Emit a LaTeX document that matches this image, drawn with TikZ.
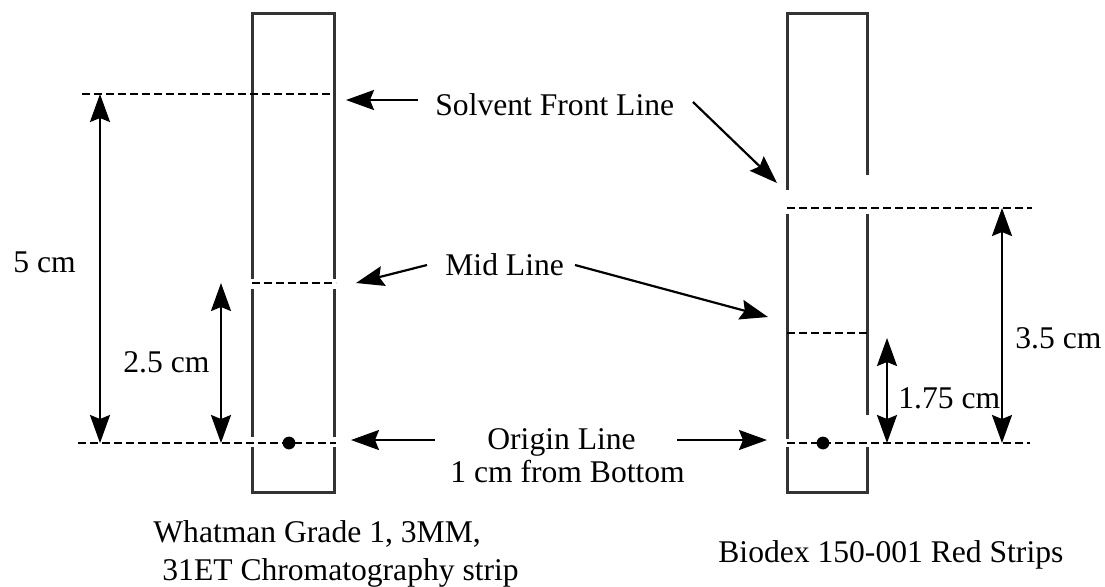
\documentclass[tikz,border=0pt]{standalone}
\usepackage{fontspec}
\setmainfont{Liberation Serif}
\usetikzlibrary{arrows.meta}
\begin{document}
\begin{tikzpicture}[x=0.5pt,y=-0.5pt,
  strip/.style={line width=1.5pt,line cap=rect,draw=black!80},
  dline/.style={line width=1.4pt,dash pattern=on 4pt off 2pt},
  ptr/.style={line width=1.1pt,-{Stealth[length=14pt,width=10pt,inset=2pt]}},
  dim/.style={line width=1.1pt,{Stealth[length=14pt,width=10pt,inset=2pt]}-{Stealth[length=14pt,width=10pt,inset=2pt]}},
  lbl/.style={inner sep=0pt,anchor=base west,font=\fontsize{15.8}{19}\selectfont}]
\useasboundingbox (0,0) rectangle (1105,586);
% left strip
\draw[strip] (252,277) -- (252,13) -- (334,13) -- (334,277);
\draw[strip] (252,290) -- (252,435);
\draw[strip] (334,290) -- (334,435);
\draw[strip] (252,448) -- (252,492) -- (334,492) -- (334,448);
% right strip
\draw[strip] (787,188) -- (787,13) -- (867,13) -- (867,173);
\draw[strip] (787,215) -- (787,437);
\draw[strip] (867,215) -- (867,413);
\draw[strip] (787,448) -- (787,492) -- (867,492) -- (867,448);
% dashed lines
\coordinate (lsA) at (82,94);   \coordinate (lsB) at (334,94);
\coordinate (lmA) at (252,283); \coordinate (lmB) at (336,283);
\coordinate (loA) at (78,443);  \coordinate (loB) at (336,443);
\coordinate (rsA) at (787,208); \coordinate (rsB) at (1032,208);
\coordinate (rmA) at (787,333); \coordinate (rmB) at (867,333);
\coordinate (roA) at (787,443); \coordinate (roB) at (1030,443);
\draw[dline] (lsA) -- (lsB);
\draw[dline] (lmA) -- (lmB);
\draw[dline] (loA) -- (loB);
\draw[dline] (rsA) -- (rsB);
\draw[dline] (rmA) -- (rmB);
\draw[dline] (roA) -- (roB);
% spots
\fill (289,443) circle (3.2pt);
\fill (823,443) circle (3.2pt);
% dimension arrows
\coordinate (d5a) at (100,94);   \coordinate (d5b) at (100,443);
\coordinate (d25a) at (221,283); \coordinate (d25b) at (221,443);
\coordinate (d175a) at (887,338);\coordinate (d175b) at (887,443);
\coordinate (d35a) at (1002,208);\coordinate (d35b) at (1002,443);
\draw[dim] (d5a) -- (d5b);
\draw[dim] (d25a) -- (d25b);
\draw[dim] (d175a) -- (d175b);
\draw[dim] (d35a) -- (d35b);
% labels
\node[lbl] (t5) at (13,272) {5 cm};
\node[lbl] (t25) at (123,372) {2.5 cm};
\node[lbl] (t35) at (1015,348) {3.5 cm};
\node[lbl] (t175) at (898,408) {1.75 cm};
\node[lbl] (tsf) at (435,115) {Solvent Front Line};
\node[lbl] (tml) at (445,275) {Mid Line};
\node[lbl] (tol) at (487,449) {Origin Line};
\node[lbl] (tob) at (450,482) {1 cm from Bottom};
\node[lbl] (tw1) at (153,542) {Whatman Grade 1, 3MM,};
\node[lbl] (tw2) at (162,580) {31ET Chromatography strip};
\node[lbl] (tbx) at (718,562) {Biodex 150-001 Red Strips};
% pointer arrows
\coordinate (p1a) at (418,100); \coordinate (p1b) at (346,100);
\coordinate (p2a) at (693,102); \coordinate (p2b) at (777,183);
\coordinate (p3a) at (427,265); \coordinate (p3b) at (356,283);
\coordinate (p4a) at (575,265); \coordinate (p4b) at (768,317);
\coordinate (p5a) at (435,440); \coordinate (p5b) at (351,440);
\coordinate (p6a) at (677,440); \coordinate (p6b) at (767,440);
\draw[ptr] (p1a) -- (p1b);
\draw[ptr] (p2a) -- (p2b);
\draw[ptr] (p3a) -- (p3b);
\draw[ptr] (p4a) -- (p4b);
\draw[ptr] (p5a) -- (p5b);
\draw[ptr] (p6a) -- (p6b);
\end{tikzpicture}
\end{document}
